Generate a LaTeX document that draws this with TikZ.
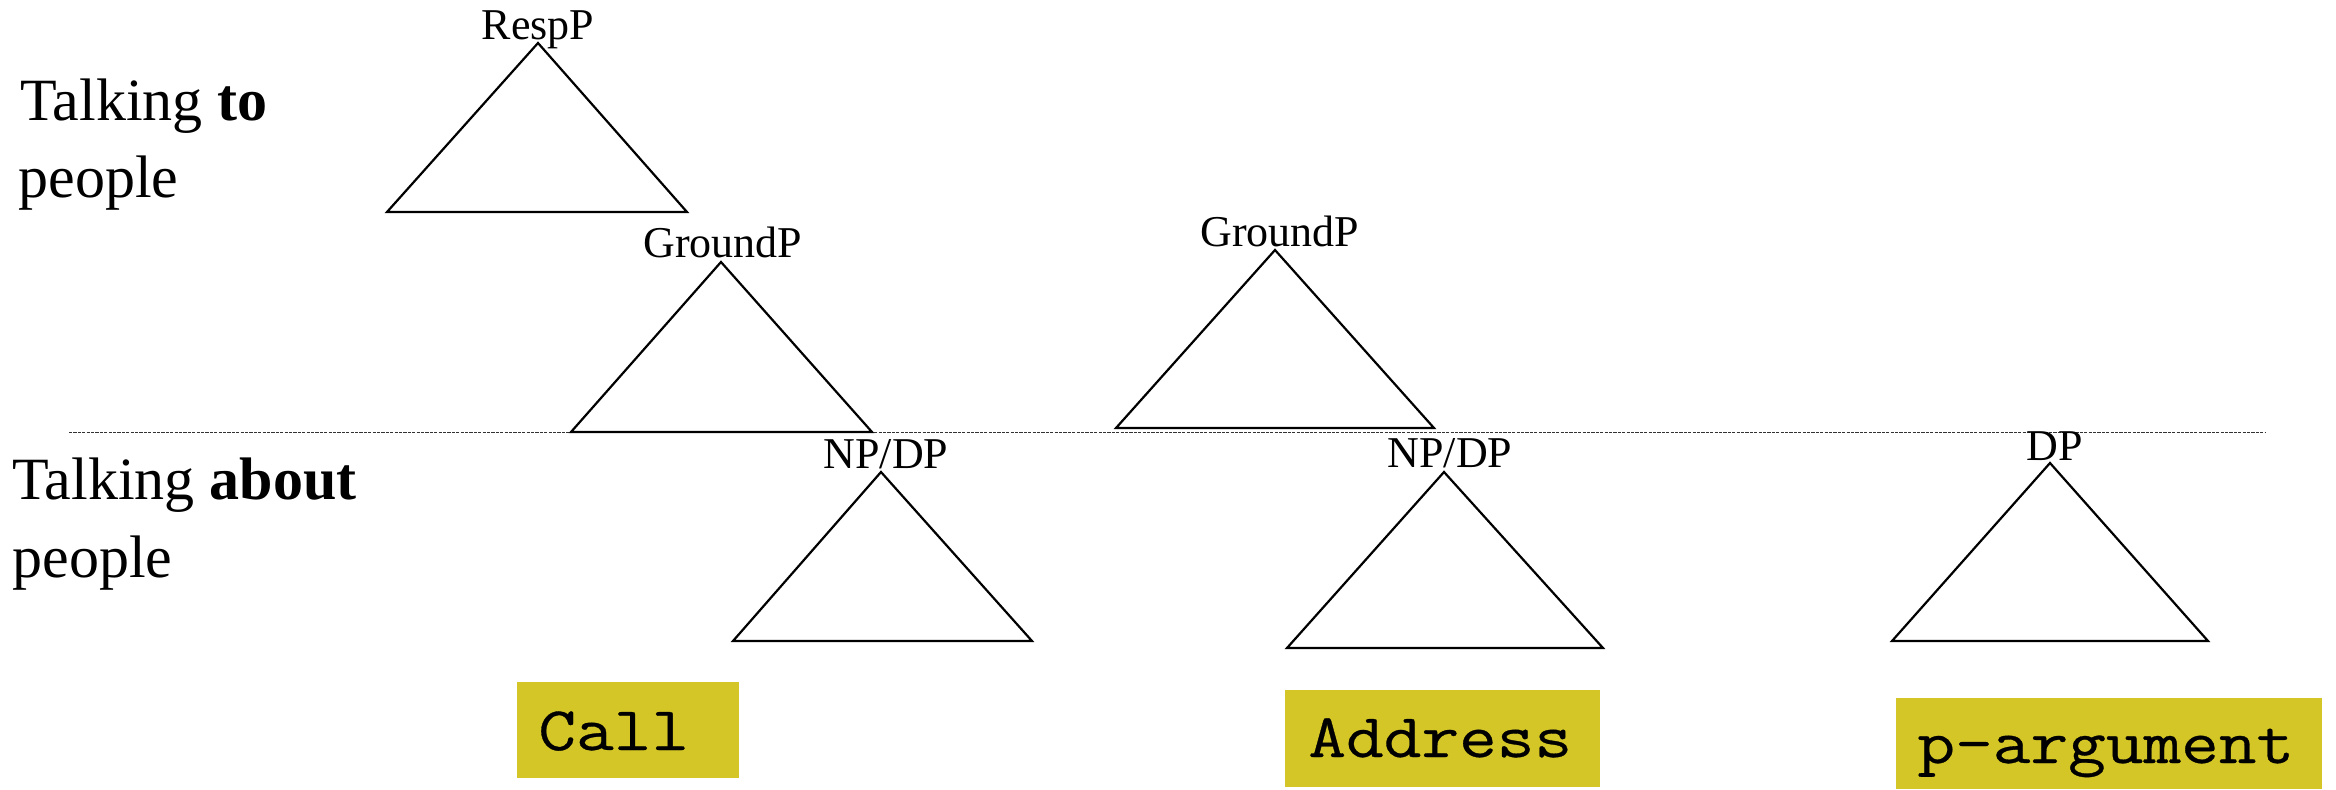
\documentclass[tikz,border=0pt]{standalone}
\usepackage{fontspec}
\setmainfont{Liberation Serif}
\newfontfamily\monof[FakeStretch=1.18,FakeBold=0.5]{Latin Modern Mono}
\definecolor{boxyellow}{RGB}{212,198,39}
\tikzset{
  tri/.style={draw=black, line width=1.1pt, line join=miter},
  lab/.style={font=\fontsize{22}{24}\selectfont, inner sep=0pt, anchor=base},
  side/.style={font=\fontsize{30}{34}\selectfont, inner sep=0pt, anchor=base west},
  mono/.style={font=\monof\fontsize{31}{34}\selectfont, inner sep=0pt, anchor=base west},
  boxfill/.style={fill=boxyellow},
  sep/.style={draw=black!80, line width=0.5pt, dash pattern=on 1.6pt off 0.6pt}
}
\begin{document}
\begin{tikzpicture}[x=0.5pt,y=-0.5pt]
\useasboundingbox (0,0) rectangle (2336,789);

% side texts
\node[side] (t1) at (20,120) {Talking \textbf{to}};
\node[side] (t2) at (18,197) {people};
\node[side] (t3) at (12,499) {Talking \textbf{about}};
\node[side] (t4) at (12,577) {people};

% separator line
\coordinate (lineL) at (69,432);
\coordinate (lineR) at (2265,432);
\draw[sep] (lineL) -- (lineR);

% RespP
\coordinate (respA) at (538,43);
\node[lab] (resp) at (538,39) {RespP};
\draw[tri] (respA) -- (387,212) -- (687,212) -- cycle;

% GroundP 1
\coordinate (g1A) at (721,262);
\node[lab] (g1) at (723,257) {GroundP};
\draw[tri] (g1A) -- (571,432) -- (872,432) -- cycle;

% GroundP 2
\coordinate (g2A) at (1275,250);
\node[lab] (g2) at (1280,246) {GroundP};
\draw[tri] (g2A) -- (1116,428) -- (1434,428) -- cycle;

% NP/DP 1
\coordinate (n1A) at (881,472);
\node[lab] (n1) at (886,468) {NP/DP};
\draw[tri] (n1A) -- (733,641) -- (1032,641) -- cycle;

% NP/DP 2
\coordinate (n2A) at (1444,472);
\node[lab] (n2) at (1450,467) {NP/DP};
\draw[tri] (n2A) -- (1287,648) -- (1603,648) -- cycle;

% DP
\coordinate (dA) at (2050,463);
\node[lab] (dp) at (2055,460) {DP};
\draw[tri] (dA) -- (1892,641) -- (2208,641) -- cycle;

% boxes
\fill[boxfill] (517,682) rectangle (739,778);
\node[mono] (call) at (538,750) {Call};
\fill[boxfill] (1285,690) rectangle (1600,787);
\node[mono] (addr) at (1308,757) {Address};
\fill[boxfill] (1896,698) rectangle (2322,789);
\node[mono] (parg) at (1917,763) {p-argument};
\end{tikzpicture}
\end{document}
